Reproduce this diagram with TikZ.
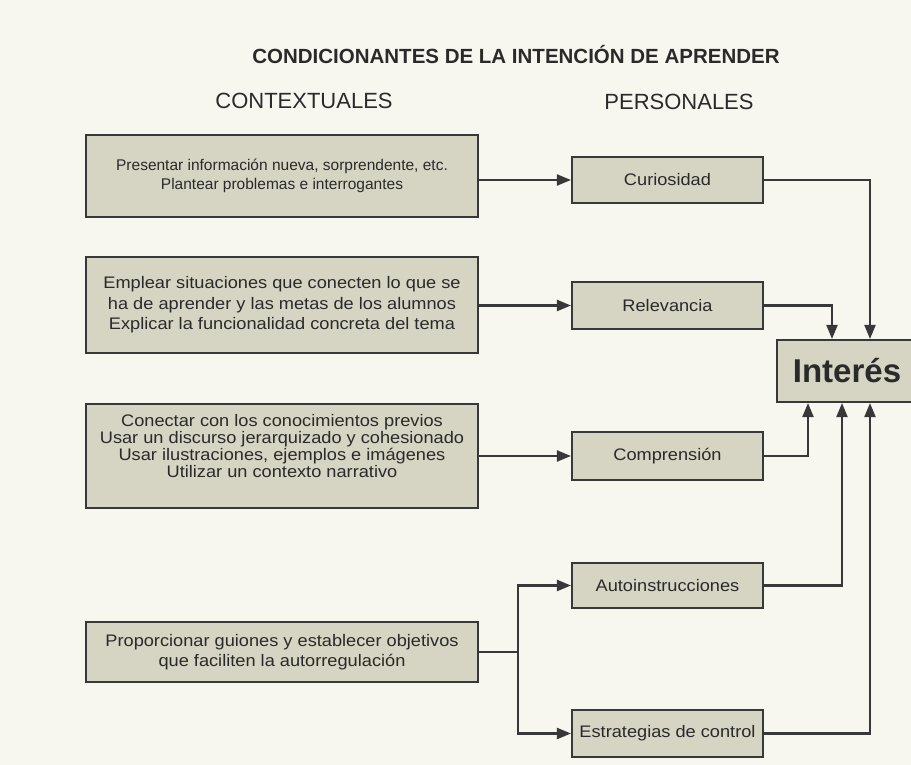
\documentclass[tikz,border=0pt]{standalone}
\usepackage{fontspec}
\setmainfont{Liberation Sans}
\newfontfamily\wideface{Liberation Sans}[FakeStretch=1.09]
\usetikzlibrary{arrows.meta}
\definecolor{bgc}{HTML}{F7F6EF}
\definecolor{boxc}{HTML}{D6D4C3}
\definecolor{linec}{HTML}{383838}
\definecolor{txtc}{HTML}{2A2A2A}
\begin{document}
\begin{tikzpicture}[x=1pt,y=-1pt,
  box/.style={draw=linec, line width=2.1pt, fill=boxc, text=txtc, align=center, inner sep=0pt,
    font=\wideface\fontsize{16.7}{20.5}\selectfont},
  lbox/.style={box, minimum width=392pt},
  pbox/.style={box, minimum width=191pt},
  conn/.style={draw=linec, line width=2.1pt},
  arr/.style={conn, -{Triangle[length=14pt,width=11pt]}},
  hdr/.style={text=txtc, inner sep=0pt, font=\fontsize{22}{24}\selectfont}]
\clip (0,0) rectangle (911,765);
\fill[bgc] (0,0) rectangle (911,765);

\node[text=txtc, inner sep=0pt, font=\fontsize{20.5}{22}\selectfont\bfseries] (title) at (516,55) {CONDICIONANTES DE LA INTENCIÓN DE APRENDER};
\node[hdr] (hctx) at (304,101) {CONTEXTUALES};
\node[hdr] (hper) at (679,102) {PERSONALES};

\node[lbox, minimum height=82pt, font=\fontsize{15.5}{19.5}\selectfont] (b1) at (282,176) {Presentar información nueva, sorprendente, etc.\\Plantear problemas e interrogantes};
\node[lbox, minimum height=96pt] (b2) at (282,305) {Emplear situaciones que conecten lo que se\\ha de aprender y las metas de los alumnos\\Explicar la funcionalidad concreta del tema};
\node[lbox, minimum height=104pt] (b3) at (282,456) {};
\node[text=txtc, align=center, inner sep=0pt, font=\wideface\fontsize{16.7}{16.8}\selectfont] (b3t) at ([yshift=10pt]b3.center) {Conectar con los conocimientos previos\\Usar un discurso jerarquizado y cohesionado\\Usar ilustraciones, ejemplos e imágenes\\Utilizar un contexto narrativo};
\node[lbox, minimum height=60pt, font=\wideface\fontsize{16.7}{20}\selectfont] (b4) at (282,652) {Proporcionar guiones y establecer objetivos\\que faciliten la autorregulación};

\node[pbox, minimum height=46pt] (cur) at (667.5,180) {Curiosidad};
\node[pbox, minimum height=47pt] (rel) at (667.5,305.5) {Relevancia};
\node[pbox, minimum height=48pt] (cmp) at (667.5,456) {Comprensión};
\node[pbox, minimum height=45pt] (aut) at (667.5,585.5) {Autoinstrucciones};
\node[pbox, minimum height=47pt] (est) at (667.5,733.5) {Estrategias de control};

\node[box, minimum width=140pt, minimum height=62pt, font=\fontsize{33}{36}\selectfont\bfseries] (int) at (847,371) {Interés};

\coordinate (xa) at (870,0);
\coordinate (xb) at (832,0);
\coordinate (xc) at (808,0);
\coordinate (xd) at (842,0);
\coordinate (split) at (518,652);

\draw[arr] (b1.east |- cur.west) -- (cur.west);
\draw[arr] (b2.east |- rel.west) -- (rel.west);
\draw[arr] (b3.east |- cmp.west) -- (cmp.west);
\draw[conn] (b4.east) -- (split);
\draw[arr] (split) |- (aut.west);
\draw[arr] (split) |- (est.west);

\draw[arr] (cur.east) -| (int.north -| xa);
\draw[arr] (rel.east) -| (int.north -| xb);
\draw[arr] (cmp.east) -| (int.south -| xc);
\draw[arr] (aut.east) -| (int.south -| xd);
\draw[arr] (est.east) -| (int.south -| xa);
\end{tikzpicture}
\end{document}
